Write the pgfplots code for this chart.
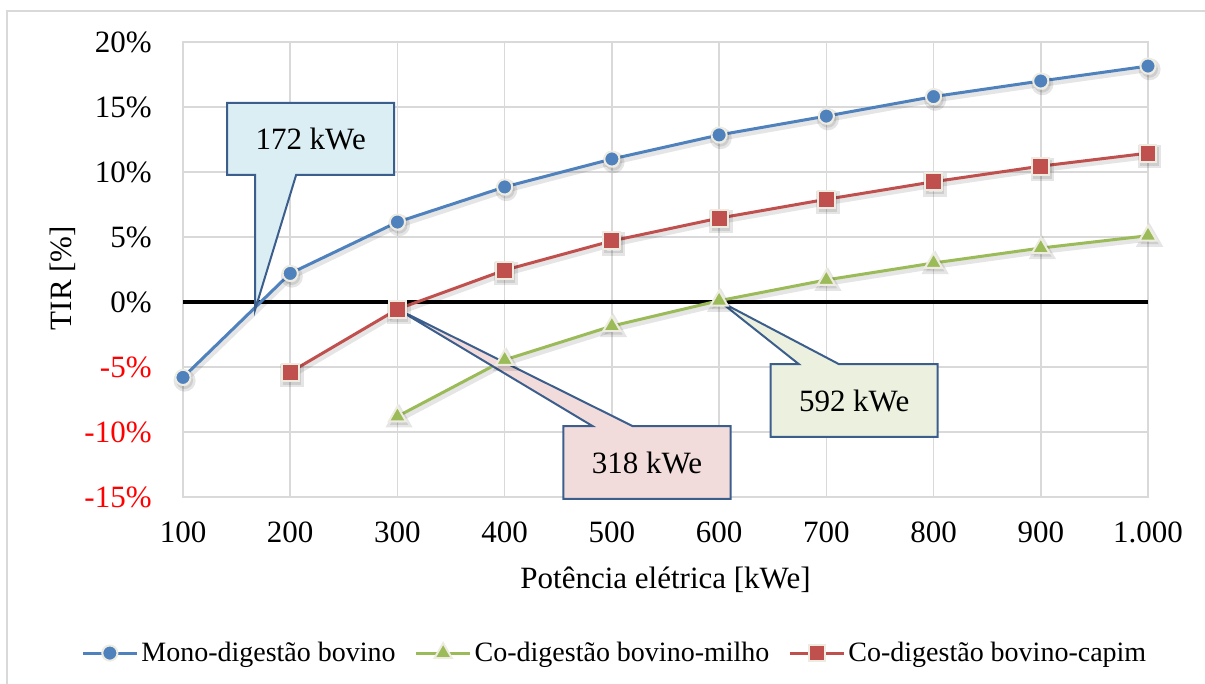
\documentclass[border=0pt]{standalone}
\usepackage{pgfplots}
\pgfplotsset{compat=1.18}
\usepackage{fontspec}
\setmainfont{Liberation Serif}

\definecolor{monoblue}{HTML}{4F81BD}
\definecolor{milhogreen}{HTML}{9BBB59}
\definecolor{capimred}{HTML}{C0504D}
\definecolor{markrim}{HTML}{EEECE1}
\definecolor{gridgray}{HTML}{D9D9D9}
\definecolor{calloutline}{HTML}{3B5E8C}
\definecolor{fillA}{HTML}{DBEEF4}
\definecolor{fillB}{HTML}{F2DCDB}
\definecolor{fillC}{HTML}{EBF1DE}

% TIR (%) against electric power (kWe)
\pgfplotstableread{
x y
100 -5.8
200 2.2
300 6.15
400 8.85
500 11.0
600 12.85
700 14.3
800 15.8
900 17.0
1000 18.15
}\mono
\pgfplotstableread{
x y
300 -8.8
400 -4.45
500 -1.85
600 0.1
700 1.7
800 3.0
900 4.15
1000 5.1
}\milho
\pgfplotstableread{
x y
200 -5.4
300 -0.55
400 2.45
500 4.7
600 6.45
700 7.9
800 9.25
900 10.45
1000 11.45
}\capim

\tikzset{
  shadowline/.style={draw=black, opacity=0.10, line width=2.6pt, xshift=0.8pt, yshift=-1.6pt},
  callout/.style={draw=calloutline, line width=1pt, line join=miter},
}

\begin{document}
\begin{tikzpicture}
\path[use as bounding box] (0,0) rectangle (602.5pt,342pt);
\draw[gridgray, line width=1pt] (3.5pt,-1pt) -- (3.5pt,336.5pt) -- (603.5pt,336.5pt);
\begin{axis}[
  at={(91.5pt,93.5pt)}, anchor=south west,
  scale only axis, width=482.5pt, height=227.5pt,
  xmin=100, xmax=1000, ymin=-15, ymax=20,
  xtick={100,200,300,400,500,600,700,800,900,1000},
  xticklabels={100,200,300,400,500,600,700,800,900,1.000},
  ytick={-15,-10,-5,0,5,10,15,20},
  yticklabels={\textcolor{red}{-15\%},\textcolor{red}{-10\%},\textcolor{red}{-5\%},0\%,5\%,10\%,15\%,20\%},
  major tick length=0pt,
  grid=major,
  grid style={gridgray, line width=0.75pt},
  axis line style={gridgray, line width=0.75pt},
  extra y ticks={0}, extra y tick labels={},
  extra y tick style={grid style={black, line width=1.6pt}},
  tick label style={font=\fontsize{15.5}{18}\selectfont, text=black},
  xticklabel style={inner sep=0pt, anchor=north, yshift=-12pt},
  yticklabel style={inner sep=0pt, anchor=east, xshift=-15.5pt},
  label style={font=\fontsize{15.5}{18}\selectfont},
  xlabel={Potência elétrica [kWe]},
  xlabel style={at={(axis description cs:0.5,-0.1824)}, anchor=center},
  ylabel={TIR [\%]},
  ylabel style={at={(axis description cs:-0.1244,0.481)}, anchor=center},
  clip=false,
  legend columns=3,
  legend cell align=left,
  legend style={at={(axis description cs:0.448,-0.343)}, anchor=center,
    draw=none, fill=none, font=\fontsize{14}{16}\selectfont,
    /tikz/every even column/.append style={column sep=8pt},
    /tikz/every odd column/.append style={column sep=0pt},
    nodes={inner sep=1.5pt}},
  legend image code/.code={\draw[mark repeat=2, mark phase=2, #1] plot coordinates {(0pt,0pt) (13.5pt,0pt) (27pt,0pt)};},
]
% soft drop shadows under the series
\addplot[shadowline, forget plot, mark=*, mark size=4.2pt] table[x=x, y=y] {\mono};
\addplot[shadowline, forget plot, mark=triangle*, mark size=5.3pt] table[x=x, y=y] {\milho};
\addplot[shadowline, forget plot, mark=square*, mark size=4.6pt] table[x=x, y=y] {\capim};

\addplot[monoblue, line width=1.5pt, mark=*, mark size=3.8pt,
  mark options={fill=monoblue, draw=markrim, line width=1pt}] table[x=x, y=y] {\mono};
\addlegendentry{Mono-digestão bovino}
\addplot[milhogreen, line width=1.5pt, mark=triangle*, mark size=5pt,
  mark options={fill=milhogreen, draw=markrim, line width=1pt}] table[x=x, y=y] {\milho};
\addlegendentry{Co-digestão bovino-milho}
\addplot[capimred, line width=1.5pt, mark=square*, mark size=4.2pt,
  mark options={fill=capimred, draw=markrim, line width=1pt}] table[x=x, y=y] {\capim};
\addlegendentry{Co-digestão bovino-capim}

% break-even callouts
\draw[callout, fill=fillA] (axis cs:141.1,15.31) -- (axis cs:297.0,15.31) -- (axis cs:297.0,9.77)
  -- (axis cs:205.5,9.77) -- (axis cs:167.2,-0.6) -- (axis cs:167.2,9.77) -- (axis cs:141.1,9.77) -- cycle;
\node[font=\fontsize{15.5}{18}\selectfont] at (axis cs:219.05,12.54) {172 kWe};

\draw[callout, fill=fillB] (axis cs:454.8,-9.54) -- (axis cs:481.9,-9.54) -- (axis cs:299.8,-0.54)
  -- (axis cs:519.2,-9.54) -- (axis cs:610.7,-9.54) -- (axis cs:610.7,-15.15) -- (axis cs:454.8,-15.15) -- cycle;
\node[font=\fontsize{15.5}{18}\selectfont] at (axis cs:532.75,-12.35) {318 kWe};

\draw[callout, fill=fillC] (axis cs:648.0,-4.77) -- (axis cs:674.2,-4.77) -- (axis cs:600.5,0.05)
  -- (axis cs:711.5,-4.77) -- (axis cs:803.9,-4.77) -- (axis cs:803.9,-10.38) -- (axis cs:648.0,-10.38) -- cycle;
\node[font=\fontsize{15.5}{18}\selectfont] at (axis cs:725.95,-7.58) {592 kWe};
\end{axis}
\end{tikzpicture}
\end{document}
